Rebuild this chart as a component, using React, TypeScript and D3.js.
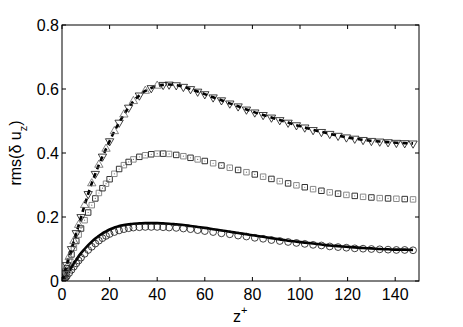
import React from "react";
import * as d3 from "d3";

// wall-normal positions (z+) where profiles were sampled
const zPlus = [
  0, 0.5, 1, 1.5, 2, 3, 4, 5, 6, 7, 8, 9.5, 11, 12.5, 14, 15.5, 17, 18.5, 20, 22,
  24, 26, 28, 30, 32.5, 35, 37.5, 40, 42.5, 45, 48, 51, 54, 57, 60, 63.5, 67,
  70.5, 74, 77.5, 81, 84.5, 88, 91.5, 95, 98.5, 102, 105.5, 109, 112.5, 116,
  119.5, 123, 126.5, 130, 133.5, 137, 140.5, 144, 147.5,
];

// triangles + dashed line (top)
const triValues = [
  0, 0.012, 0.025, 0.037, 0.05, 0.075, 0.1, 0.125, 0.15, 0.175, 0.2, 0.237,
  0.272, 0.305, 0.335, 0.363, 0.389, 0.413, 0.437, 0.468, 0.495, 0.52, 0.542,
  0.562, 0.58, 0.594, 0.603, 0.61, 0.613, 0.614, 0.612, 0.607, 0.6, 0.592,
  0.584, 0.574, 0.565, 0.555, 0.546, 0.536, 0.527, 0.519, 0.511, 0.503, 0.495,
  0.487, 0.48, 0.472, 0.466, 0.46, 0.454, 0.449, 0.445, 0.441, 0.438, 0.436,
  0.434, 0.432, 0.431, 0.43,
];

// squares (middle)
const squareValues = [
  0, 0.01, 0.02, 0.03, 0.04, 0.062, 0.083, 0.104, 0.125, 0.145, 0.164, 0.19,
  0.214, 0.237, 0.258, 0.275, 0.29, 0.304, 0.318, 0.335, 0.35, 0.362, 0.372,
  0.38, 0.388, 0.393, 0.396, 0.398, 0.398, 0.397, 0.394, 0.39, 0.385, 0.38,
  0.375, 0.368, 0.361, 0.354, 0.347, 0.34, 0.333, 0.326, 0.319, 0.312, 0.305,
  0.299, 0.293, 0.287, 0.282, 0.277, 0.273, 0.269, 0.266, 0.263, 0.261, 0.259,
  0.258, 0.257, 0.256, 0.255,
];

// solid line (bottom)
const lineValues = [
  0, 0.004, 0.009, 0.014, 0.019, 0.031, 0.043, 0.055, 0.066, 0.077, 0.087, 0.1,
  0.112, 0.123, 0.133, 0.141, 0.149, 0.155, 0.161, 0.167, 0.172, 0.175, 0.177,
  0.179, 0.18, 0.181, 0.181, 0.181, 0.18, 0.179, 0.177, 0.175, 0.172, 0.169,
  0.166, 0.162, 0.158, 0.154, 0.15, 0.146, 0.142, 0.138, 0.134, 0.13, 0.126,
  0.123, 0.12, 0.117, 0.114, 0.111, 0.109, 0.107, 0.105, 0.103, 0.102, 0.1,
  0.099, 0.098, 0.098, 0.097,
];

// circles (bottom)
const circleValues = [
  0, 0.003, 0.007, 0.011, 0.015, 0.025, 0.035, 0.045, 0.055, 0.064, 0.073,
  0.085, 0.097, 0.107, 0.117, 0.126, 0.134, 0.141, 0.147, 0.153, 0.158, 0.162,
  0.165, 0.167, 0.168, 0.169, 0.169, 0.169, 0.168, 0.167, 0.166, 0.164, 0.162,
  0.159, 0.156, 0.153, 0.149, 0.146, 0.142, 0.139, 0.135, 0.132, 0.128, 0.125,
  0.122, 0.119, 0.116, 0.113, 0.111, 0.108, 0.106, 0.104, 0.102, 0.101, 0.1,
  0.099, 0.098, 0.097, 0.097, 0.096,
];

const xTicks = [0, 20, 40, 60, 80, 100, 120, 140];
const yTicks = [0, 0.2, 0.4, 0.6, 0.8];

const W = 463;
const H = 327;
const left = 62;
const right = 419;
const top = 25;
const bottom = 281;
const font = "'Liberation Sans', Arial, Helvetica, sans-serif";

export default function App() {
  const x = d3.scaleLinear().domain([0, 150]).range([left, right]);
  const y = d3.scaleLinear().domain([0, 0.8]).range([bottom, top]);

  const pts = (vals: number[]) => zPlus.map((z, i) => [x(z), y(vals[i])] as [number, number]);
  const line = d3.line().curve(d3.curveMonotoneX);

  const tri = d3.symbol().type(d3.symbolTriangle).size(30);
  const sq = d3.symbol().type(d3.symbolSquare).size(30);

  return (
    <svg
      width={W}
      height={H}
      style={{ position: "absolute", left: 0, top: 0, background: "#fff" }}
    >
      <defs>
        <clipPath id="plot">
          <rect x={left} y={top} width={right - left} height={bottom - top} />
        </clipPath>
      </defs>

      <g clipPath="url(#plot)">
        {/* bottom: solid line + circles */}
        <path d={line(pts(lineValues)) || ""} fill="none" stroke="#000" strokeWidth={2.6} />
        {pts(circleValues).map(([cx, cy], i) => (
          <circle key={"c" + i} cx={cx} cy={cy} r={3.4} fill="none" stroke="#111" strokeWidth={0.8} />
        ))}

        {/* middle: squares */}
        {pts(squareValues).map(([cx, cy], i) => (
          <g key={"s" + i} transform={`translate(${cx},${cy})`}>
            <path d={sq() || ""} fill="none" stroke={i % 2 ? "#888" : "#333"} strokeWidth={1} />
            <circle r={0.6} fill="#777" />
          </g>
        ))}

        {/* top: dashed line + triangles */}
        <path
          d={line(pts(triValues)) || ""}
          fill="none"
          stroke="#000"
          strokeWidth={2.6}
          strokeDasharray="5 4"
        />
        {pts(triValues).map(([cx, cy], i) => {
          const up = zPlus[i] < 42 && i % 2 === 1;
          return (
            <path
              key={"t" + i}
              d={tri() || ""}
              transform={`translate(${cx},${cy}) rotate(${up ? 0 : 180})`}
              fill="none"
              stroke={up ? "#666" : "#111"}
              strokeWidth={0.8}
            />
          );
        })}
      </g>

      {/* axes box */}
      <rect x={left} y={top} width={right - left} height={bottom - top} fill="none" stroke="#000" strokeWidth={1} />
      {xTicks.map((t) => (
        <g key={"xt" + t}>
          <line x1={x(t)} x2={x(t)} y1={bottom} y2={bottom - 4} stroke="#000" />
          <line x1={x(t)} x2={x(t)} y1={top} y2={top + 4} stroke="#000" />
          <text x={x(t)} y={300} textAnchor="middle" fontFamily={font} fontSize={16}>
            {t}
          </text>
        </g>
      ))}
      {yTicks.map((t) => (
        <g key={"yt" + t}>
          <line x1={left} x2={left + 4} y1={y(t)} y2={y(t)} stroke="#000" />
          <line x1={right} x2={right - 4} y1={y(t)} y2={y(t)} stroke="#000" />
          <text x={59} y={y(t) + 6} textAnchor="end" fontFamily={font} fontSize={16}>
            {t === 0 ? "0" : t.toFixed(1)}
          </text>
        </g>
      ))}

      <text x={233} y={322} fontFamily={font} fontSize={16}>
        z<tspan dy={-8} fontSize={11}>+</tspan>
      </text>
      <text
        transform="translate(21,153) rotate(-90)"
        textAnchor="middle"
        fontFamily={font}
        fontSize={16}
      >
        rms(δ u<tspan dy={6} fontSize={11}>z</tspan>
        <tspan dy={-6}>)</tspan>
      </text>
    </svg>
  );
}
